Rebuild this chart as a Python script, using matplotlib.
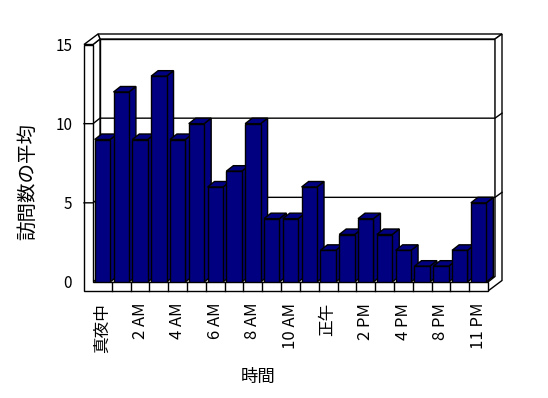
import numpy as np
import matplotlib
matplotlib.use("Agg")
import matplotlib.pyplot as plt
from matplotlib.patches import Polygon

plt.rcParams['font.family'] = ['Noto Sans CJK JP', 'DejaVu Sans']

# data
hours = ["真夜中", "1 AM", "2 AM", "3 AM", "4 AM", "5 AM", "6 AM", "7 AM",
         "8 AM", "9 AM", "10 AM", "11 AM", "正午", "1 PM", "2 PM", "3 PM",
         "4 PM", "6 PM", "8 PM", "10 PM", "11 PM"]
visits = [9, 12, 9, 13, 9, 10, 6, 7, 10, 4, 4, 6, 2, 3, 4, 3, 2, 1, 1, 2, 5]
y_ticks = [0, 5, 10, 15]
y_max = 15

W, H = 548, 398
fig = plt.figure(figsize=(W / 100, H / 100), dpi=100)
# front plane of the 3D box, in pixels: x 93..488, y 282..44.5 (from top)
ax = fig.add_axes([93 / W, 116 / H, 395 / W, 237.5 / H])
n = len(visits)
x = np.arange(n)
ax.set_xlim(-0.5, n - 0.5)
ax.set_ylim(0, y_max)

# pixel -> data helpers for the fake depth
sx = n / 395
sy = y_max / 237.5
dx1, dy1 = 7 * sx, 5.5 * sy      # depth of the plot box / bars
dx2, dy2 = 14 * sx, 10.5 * sy    # outer depth (wall thickness)
wx, fy = 9 * sx, 9 * sy          # left wall / floor thickness
x0, x1 = -0.5, n - 0.5
top = y_max
navy = '#000080'
lw = 1.0


def poly(pts, z, fc='white'):
    ax.add_patch(Polygon(pts, closed=True, fc=fc, ec='black', lw=lw,
                         zorder=z, clip_on=False, joinstyle='miter'))


# walls and floor
poly([(x0 + dx1, dy1), (x0 + dx1, top + dy1), (x1 + dx1, top + dy1), (x1 + dx1, dy1)], 1)
poly([(x0 + dx1, top + dy1), (x0 - wx + dx2, top + dy2), (x1 + dx2, top + dy2),
      (x1 + dx1, top + dy1)], 1)
poly([(x1 + dx1, top + dy1), (x1 + dx2, top + dy2), (x1 + dx2, -fy + dy2),
      (x1, -fy), (x1, 0), (x1 + dx1, dy1)], 1)
poly([(x0, 0), (x0, top), (x0 + dx1, top + dy1), (x0 + dx1, dy1)], 1)
poly([(x0 - wx, top), (x0 - wx + dx2, top + dy2), (x0 + dx1, top + dy1), (x0, top)], 1)
poly([(x0 - wx, -fy), (x0 - wx, top), (x0, top), (x0, 0), (x1, 0), (x1, -fy)], 1.2)

for k in range(n - 1):
    ax.plot([k + 0.5, k + 0.5], [-fy, 0], color='black', lw=lw, zorder=1.3, clip_on=False)

for v in y_ticks[1:-1]:
    ax.plot([x0 - wx, x0, x0 + dx1, x1 + dx1, x1 + dx2],
            [v, v, v + dy1, v + dy1, v + dy2],
            color='black', lw=lw, zorder=1.5, clip_on=False)

# bars: front faces from ax.bar, top and side faces as polygons
bw = 0.82
bars = ax.bar(x, visits, width=bw, color=navy, edgecolor='black', linewidth=lw)
for k, (xi, v, b) in enumerate(zip(x, visits, bars)):
    z = 3 + k * 0.01
    l, r = xi - bw / 2, xi + bw / 2
    poly([(r, 0), (r + dx1, dy1), (r + dx1, v + dy1), (r, v)], z, navy)
    poly([(l, v), (l + dx1, v + dy1), (r + dx1, v + dy1), (r, v)], z, navy)
    b.set_zorder(z + 0.005)

for s in ax.spines.values():
    s.set_visible(False)
ax.patch.set_visible(False)

ax.set_yticks(y_ticks)
ax.set_xticks(x[::2], hours[::2], rotation=90)
ax.tick_params(axis='y', length=0, pad=15, labelsize=11)
ax.tick_params(axis='x', length=0, pad=15, labelsize=12)

ax.set_xlabel("時間", fontsize=12.5, va='center')
ax.xaxis.set_label_coords(0.418, -0.40)
ax.set_ylabel("訪問数の平均", fontsize=14, ha='center', va='center')
ax.yaxis.set_label_coords(-0.165, 0.425)

fig.savefig('out.png', dpi=100)
